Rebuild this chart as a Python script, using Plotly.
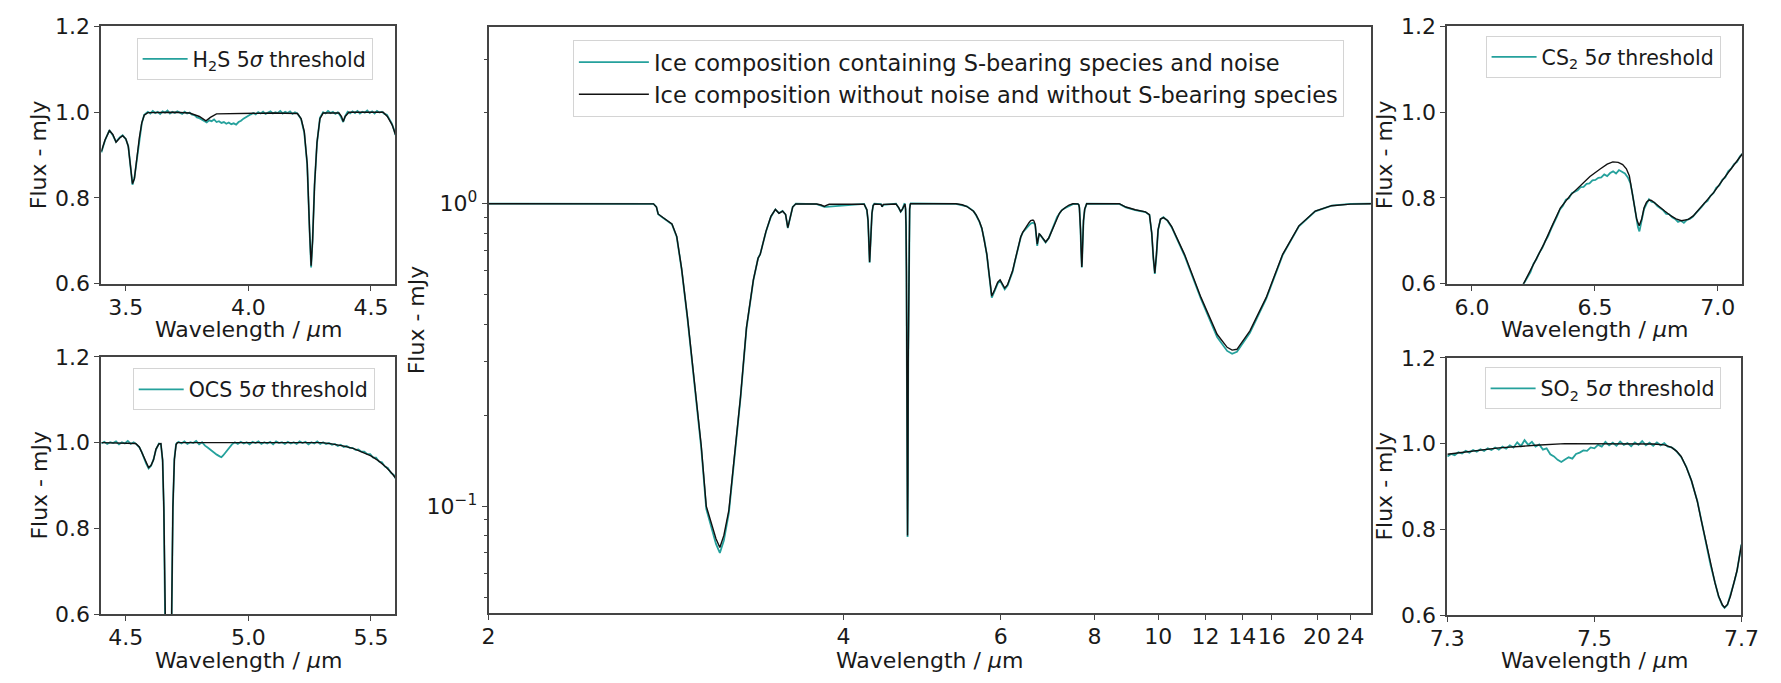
import plotly.graph_objects as go

W, H = 1781, 683
TEAL = "#25a19c"
BLACK = "#111111"
AXC = "#444444"
FONT = "DejaVu Sans"

# ---------------- centre panel: full spectrum ----------------
wl_full = [
    2.00, 2.30, 2.60, 2.68, 2.695, 2.704, 2.729, 2.777, 2.803, 2.83,
    2.863, 2.902, 2.942, 2.972, 3.002, 3.031, 3.055, 3.08, 3.112, 3.143,
    3.188, 3.228, 3.275, 3.308, 3.315, 3.323, 3.364, 3.40, 3.433, 3.46,
    3.487, 3.51, 3.527, 3.545, 3.565, 3.59, 3.76, 3.80, 3.827, 3.845,
    3.87, 4.20, 4.228, 4.24, 4.25, 4.256, 4.262, 4.27, 4.28, 4.292,
    4.305, 4.375, 4.387, 4.40, 4.54, 4.57, 4.593, 4.613, 4.635, 4.643,
    4.65, 4.655, 4.66, 4.665, 4.67, 4.673, 4.677, 4.681, 4.687, 4.692,
    4.698, 4.705, 4.71, 5.30, 5.39, 5.46, 5.53, 5.56, 5.60, 5.65,
    5.69, 5.73, 5.77, 5.80, 5.83, 5.85, 5.90, 5.95, 5.99, 6.03,
    6.07, 6.12, 6.17, 6.21, 6.25, 6.294, 6.33, 6.36, 6.40, 6.44,
    6.48, 6.52, 6.55, 6.573, 6.595, 6.613, 6.628, 6.64, 6.65, 6.66,
    6.67, 6.68, 6.69, 6.70, 6.72, 6.74, 6.785, 6.852, 6.918, 6.985,
    7.051, 7.10, 7.15, 7.20, 7.25, 7.30, 7.37, 7.46, 7.58, 7.605,
    7.618, 7.632, 7.645, 7.658, 7.669, 7.677, 7.685, 7.694, 7.70, 7.72,
    7.75, 7.78, 7.80, 8.70, 8.90, 9.20, 9.54, 9.68, 9.76, 9.82,
    9.87, 9.93, 9.99, 10.08, 10.19, 10.35, 10.51, 11.04, 11.78, 12.58,
    13.12, 13.40, 13.68, 14.48, 15.59, 16.84, 18.23, 19.81, 21.61, 24.0,
    27.5,
]
flux_full_model = [
    1.0, 1.0, 1.0, 0.999, 0.975, 0.925, 0.90, 0.857, 0.78, 0.61,
    0.42, 0.26, 0.159, 0.10, 0.088, 0.078, 0.073, 0.08, 0.097, 0.14,
    0.23, 0.39, 0.56, 0.66, 0.672, 0.68, 0.81, 0.908, 0.957, 0.930,
    0.945, 0.920, 0.833, 0.895, 0.975, 0.999, 0.998, 0.99, 0.98, 0.988,
    0.996, 0.997, 0.955, 0.88, 0.72, 0.642, 0.70, 0.83, 0.93, 0.985,
    0.998, 0.995, 0.978, 0.995, 0.998, 0.97, 0.942, 0.96, 0.997, 0.998,
    0.96, 0.85, 0.60, 0.30, 0.12, 0.08, 0.12, 0.30, 0.60, 0.85,
    0.96, 0.995, 1.0, 1.0, 0.992, 0.979, 0.958, 0.944, 0.918, 0.875,
    0.83, 0.76, 0.68, 0.60, 0.53, 0.495, 0.52, 0.55, 0.56, 0.545,
    0.526, 0.54, 0.57, 0.60, 0.645, 0.694, 0.74, 0.777, 0.806, 0.829,
    0.85, 0.867, 0.879, 0.884, 0.883, 0.878, 0.868, 0.852, 0.82, 0.784,
    0.75, 0.735, 0.75, 0.777, 0.795, 0.79, 0.769, 0.747, 0.77, 0.814,
    0.867, 0.903, 0.93, 0.95, 0.965, 0.975, 0.99, 1.0, 0.999, 0.991,
    0.97, 0.914, 0.824, 0.719, 0.644, 0.618, 0.644, 0.704, 0.764, 0.88,
    0.96, 0.995, 1.0, 1.0, 0.975, 0.955, 0.94, 0.92, 0.80, 0.66,
    0.59, 0.68, 0.82, 0.89, 0.90, 0.88, 0.84, 0.68, 0.49, 0.37,
    0.335, 0.328, 0.33, 0.38, 0.49, 0.68, 0.845, 0.946, 0.985, 0.997,
    1.0,
]
flux_full_noisy = [
    1.001, 0.999, 1.002, 0.998, 0.976, 0.923, 0.898, 0.855, 0.776, 0.607,
    0.416, 0.257, 0.156, 0.098, 0.085, 0.075, 0.070, 0.077, 0.095, 0.138,
    0.228, 0.387, 0.558, 0.661, 0.670, 0.681, 0.808, 0.906, 0.958, 0.931,
    0.946, 0.921, 0.831, 0.893, 0.976, 1.001, 0.997, 0.986, 0.976, 0.977,
    0.978, 0.998, 0.953, 0.877, 0.717, 0.638, 0.702, 0.832, 0.928, 0.987,
    1.000, 0.997, 0.977, 0.991, 1.001, 0.969, 0.941, 0.958, 0.998, 0.996,
    0.958, 0.847, 0.596, 0.296, 0.118, 0.079, 0.118, 0.297, 0.597, 0.848,
    0.962, 0.997, 1.002, 0.999, 0.991, 0.980, 0.956, 0.945, 0.916, 0.872,
    0.826, 0.757, 0.676, 0.595, 0.525, 0.489, 0.516, 0.545, 0.557, 0.540,
    0.521, 0.536, 0.566, 0.596, 0.642, 0.692, 0.738, 0.775, 0.805, 0.822,
    0.838, 0.850, 0.860, 0.862, 0.865, 0.861, 0.857, 0.846, 0.814, 0.781,
    0.746, 0.725, 0.742, 0.775, 0.796, 0.788, 0.768, 0.745, 0.769, 0.812,
    0.866, 0.904, 0.928, 0.951, 0.963, 0.972, 0.986, 0.997, 0.999, 0.990,
    0.969, 0.913, 0.823, 0.717, 0.643, 0.616, 0.645, 0.703, 0.765, 0.878,
    0.958, 0.996, 1.001, 0.999, 0.973, 0.953, 0.938, 0.918, 0.797, 0.655,
    0.586, 0.676, 0.818, 0.888, 0.902, 0.877, 0.836, 0.674, 0.484, 0.362,
    0.326, 0.319, 0.324, 0.374, 0.485, 0.676, 0.842, 0.944, 0.986, 0.998,
    1.001,
]
full_tick_labels = [2, 4, 6, 8, 10, 12, 14, 16, 20, 24]
full_xrange = [2.0, 27.07]
full_yrange_log = [-1.354, 0.583]

# ---------------- H2S panel ----------------
wl_h2s_model = [3.40, 3.415, 3.433, 3.447, 3.46, 3.475, 3.487, 3.50, 3.51, 3.52,
                3.527, 3.535, 3.545, 3.555, 3.565, 3.575, 3.59, 3.70, 3.76, 3.80,
                3.827, 3.845, 3.87, 3.95, 4.10, 4.20, 4.215, 4.228, 4.24, 4.25,
                4.256, 4.262, 4.27, 4.28, 4.292, 4.305, 4.37, 4.38, 4.387, 4.395,
                4.41, 4.55, 4.567, 4.587, 4.60]
flux_h2s_model = [0.908, 0.935, 0.957, 0.948, 0.930, 0.940, 0.945, 0.938, 0.920, 0.870,
                  0.833, 0.845, 0.895, 0.940, 0.975, 0.993, 0.999, 1.0, 0.998, 0.99,
                  0.98, 0.988, 0.996, 0.997, 0.998, 0.997, 0.985, 0.955, 0.88, 0.72,
                  0.642, 0.70, 0.83, 0.93, 0.985, 0.998, 0.998, 0.99, 0.978, 0.99,
                  1.0, 1.0, 0.99, 0.97, 0.948]
wl_h2s_noisy = [
    3.40, 3.415, 3.433, 3.447, 3.46, 3.475, 3.487, 3.50, 3.51, 3.52,
    3.527, 3.535, 3.545, 3.555, 3.565, 3.575, 3.59, 3.60, 3.61, 3.62,
    3.63, 3.64, 3.65, 3.66, 3.67, 3.68, 3.69, 3.70, 3.71, 3.72,
    3.73, 3.74, 3.75, 3.76, 3.77, 3.78, 3.79, 3.80, 3.81, 3.82,
    3.83, 3.84, 3.85, 3.86, 3.87, 3.88, 3.89, 3.90, 3.91, 3.92,
    3.93, 3.94, 3.95, 3.96, 3.97, 3.98, 3.99, 4.00, 4.01, 4.02,
    4.03, 4.04, 4.05, 4.06, 4.07, 4.08, 4.09, 4.10, 4.11, 4.12,
    4.13, 4.14, 4.15, 4.16, 4.17, 4.18, 4.19, 4.20, 4.215, 4.228,
    4.24, 4.25, 4.256, 4.262, 4.27, 4.28, 4.292, 4.305, 4.315, 4.325,
    4.335, 4.345, 4.355, 4.365, 4.375, 4.387, 4.395, 4.405, 4.415, 4.425,
    4.435, 4.445, 4.455, 4.465, 4.475, 4.485, 4.495, 4.505, 4.515, 4.525,
    4.535, 4.545, 4.555, 4.565, 4.575, 4.585, 4.595, 4.60,
]
flux_h2s_noisy = [
    0.906, 0.934, 0.958, 0.946, 0.931, 0.941, 0.946, 0.937, 0.921, 0.868,
    0.831, 0.847, 0.893, 0.941, 0.974, 0.994, 1.001, 0.997, 1.003, 0.998,
    1.001, 0.996, 1.002, 0.999, 1.004, 0.997, 1.001, 0.998, 1.002, 0.999,
    0.996, 1.001, 0.997, 0.999, 0.994, 0.993, 0.988, 0.986, 0.982, 0.978,
    0.976, 0.981, 0.979, 0.983, 0.977, 0.979, 0.975, 0.977, 0.973, 0.976,
    0.972, 0.974, 0.971, 0.977, 0.980, 0.985, 0.989, 0.993, 0.995, 0.998,
    0.995, 1.000, 0.997, 1.001, 0.996, 0.999, 1.002, 0.997, 1.000, 0.998,
    1.003, 0.997, 1.001, 0.998, 1.002, 0.996, 1.000, 0.997, 0.984, 0.952,
    0.878, 0.718, 0.638, 0.702, 0.832, 0.928, 0.987, 1.000, 0.997, 1.003,
    0.998, 1.001, 0.996, 1.000, 0.992, 0.977, 0.991, 1.001, 0.997, 1.002,
    0.998, 1.003, 0.997, 1.001, 0.999, 1.004, 0.998, 1.002, 0.997, 1.003,
    0.999, 1.001, 0.996, 0.994, 0.985, 0.974, 0.958, 0.947,
]
h2s_ticks = [3.5, 4.0, 4.5]
h2s_xrange = [3.4, 4.6]

# ---------------- OCS panel ----------------
wl_ocs_model = [4.40, 4.54, 4.555, 4.57, 4.583, 4.593, 4.603, 4.613, 4.623, 4.635,
                4.643, 4.65, 4.655, 4.66, 4.665, 4.67, 4.673, 4.677, 4.681, 4.687,
                4.692, 4.698, 4.705, 4.71, 5.30, 5.34, 5.39, 5.43, 5.46, 5.50,
                5.53, 5.56, 5.58, 5.60]
flux_ocs_model = [1.0, 0.998, 0.99, 0.97, 0.952, 0.942, 0.947, 0.96, 0.985, 0.997,
                  0.998, 0.96, 0.85, 0.60, 0.30, 0.12, 0.08, 0.12, 0.30, 0.60,
                  0.85, 0.96, 0.995, 1.0, 1.0, 0.997, 0.992, 0.986, 0.979, 0.969,
                  0.958, 0.944, 0.932, 0.918]
wl_ocs_noisy = [
    4.40, 4.412, 4.424, 4.436, 4.448, 4.46, 4.472, 4.484, 4.496, 4.508,
    4.52, 4.532, 4.544, 4.555, 4.565, 4.575, 4.583, 4.593, 4.603, 4.613,
    4.623, 4.635, 4.643, 4.65, 4.655, 4.66, 4.665, 4.67, 4.673, 4.677,
    4.681, 4.687, 4.692, 4.698, 4.705, 4.715, 4.727, 4.739, 4.751, 4.763,
    4.775, 4.787, 4.799, 4.811, 4.823, 4.835, 4.847, 4.859, 4.871, 4.883,
    4.89, 4.897, 4.909, 4.921, 4.933, 4.945, 4.957, 4.969, 4.981, 4.993,
    5.005, 5.017, 5.029, 5.041, 5.053, 5.065, 5.077, 5.089, 5.101, 5.113,
    5.125, 5.137, 5.149, 5.161, 5.173, 5.185, 5.197, 5.209, 5.221, 5.233,
    5.245, 5.257, 5.269, 5.281, 5.293, 5.305, 5.317, 5.329, 5.341, 5.353,
    5.365, 5.377, 5.389, 5.401, 5.413, 5.425, 5.437, 5.449, 5.461, 5.473,
    5.485, 5.497, 5.509, 5.521, 5.533, 5.545, 5.557, 5.569, 5.581, 5.593,
    5.60,
]
flux_ocs_noisy = [
    0.998, 1.002, 0.997, 1.001, 0.999, 1.003, 0.996, 1.001, 0.998, 1.004,
    0.997, 1.001, 0.996, 0.989, 0.978, 0.962, 0.951, 0.940, 0.946, 0.961,
    0.984, 0.998, 0.997, 0.958, 0.848, 0.596, 0.296, 0.117, 0.078, 0.118,
    0.297, 0.598, 0.849, 0.962, 0.997, 1.002, 0.998, 1.003, 0.997, 1.001,
    0.999, 1.004, 0.996, 1.001, 0.993, 0.988, 0.982, 0.977, 0.972, 0.968,
    0.966, 0.970, 0.978, 0.987, 0.996, 1.001, 0.997, 1.002, 0.998, 1.001,
    0.996, 1.002, 0.999, 1.003, 0.997, 1.001, 0.998, 1.002, 0.996, 1.003,
    0.999, 1.001, 0.997, 1.002, 0.998, 1.001, 0.997, 1.003, 0.999, 1.002,
    0.996, 1.001, 0.998, 1.003, 0.997, 1.001, 0.997, 0.999, 0.995, 0.997,
    0.992, 0.995, 0.990, 0.992, 0.988, 0.988, 0.983, 0.984, 0.979, 0.979,
    0.973, 0.973, 0.965, 0.965, 0.956, 0.954, 0.944, 0.941, 0.930, 0.925,
    0.917,
]
ocs_ticks = [4.5, 5.0, 5.5]
ocs_xrange = [4.4, 5.6]

# ---------------- CS2 panel ----------------
wl_cs2_model = [5.90, 5.95, 5.99, 6.03, 6.07, 6.12, 6.17, 6.21, 6.25, 6.294,
                6.33, 6.36, 6.40, 6.44, 6.48, 6.52, 6.55, 6.573, 6.595, 6.613,
                6.628, 6.64, 6.65, 6.66, 6.67, 6.68, 6.69, 6.70, 6.71, 6.72,
                6.73, 6.74, 6.76, 6.785, 6.81, 6.83, 6.852, 6.88, 6.90, 6.918,
                6.95, 6.985, 7.02, 7.051, 7.08, 7.10]
flux_cs2_model = [0.52, 0.55, 0.56, 0.545, 0.526, 0.54, 0.57, 0.60, 0.645, 0.694,
                  0.74, 0.777, 0.806, 0.829, 0.85, 0.867, 0.879, 0.884, 0.883, 0.878,
                  0.868, 0.852, 0.82, 0.784, 0.75, 0.735, 0.75, 0.777, 0.79, 0.795,
                  0.794, 0.79, 0.78, 0.769, 0.758, 0.751, 0.747, 0.75, 0.758, 0.77,
                  0.79, 0.814, 0.842, 0.867, 0.888, 0.903]
wl_cs2_noisy = [
    6.19, 6.202, 6.214, 6.226, 6.238, 6.25, 6.262, 6.274, 6.286, 6.298,
    6.31, 6.322, 6.334, 6.346, 6.358, 6.37, 6.382, 6.394, 6.406, 6.418,
    6.43, 6.442, 6.454, 6.466, 6.478, 6.49, 6.502, 6.514, 6.526, 6.538,
    6.55, 6.562, 6.574, 6.586, 6.598, 6.61, 6.622, 6.634, 6.644, 6.652,
    6.66, 6.668, 6.675, 6.681, 6.687, 6.694, 6.70, 6.71, 6.72, 6.73,
    6.742, 6.754, 6.766, 6.778, 6.79, 6.802, 6.814, 6.826, 6.838, 6.85,
    6.862, 6.874, 6.886, 6.898, 6.91, 6.922, 6.934, 6.946, 6.958, 6.97,
    6.982, 6.994, 7.006, 7.018, 7.03, 7.042, 7.054, 7.066, 7.078, 7.09,
    7.10,
]
flux_cs2_noisy = [
    0.585, 0.592, 0.603, 0.616, 0.627, 0.646, 0.657, 0.672, 0.683, 0.699,
    0.711, 0.728, 0.741, 0.757, 0.773, 0.782, 0.796, 0.799, 0.811, 0.814,
    0.818, 0.825, 0.826, 0.833, 0.834, 0.841, 0.842, 0.847, 0.848, 0.855,
    0.851, 0.858, 0.862, 0.857, 0.865, 0.861, 0.857, 0.848, 0.835, 0.812,
    0.781, 0.752, 0.732, 0.722, 0.738, 0.763, 0.774, 0.786, 0.797, 0.791,
    0.789, 0.781, 0.776, 0.771, 0.763, 0.762, 0.755, 0.751, 0.744, 0.747,
    0.742, 0.749, 0.751, 0.756, 0.764, 0.771, 0.779, 0.788, 0.793, 0.805,
    0.811, 0.824, 0.829, 0.842, 0.848, 0.862, 0.868, 0.879, 0.884, 0.897,
    0.903,
]
cs2_ticks = [6.0, 6.5, 7.0]
cs2_xrange = [5.9, 7.1]

# ---------------- SO2 panel ----------------
wl_so2_model = [7.30, 7.33, 7.37, 7.42, 7.46, 7.58, 7.595, 7.605, 7.612, 7.618,
                7.625, 7.632, 7.64, 7.645, 7.652, 7.658, 7.664, 7.669, 7.674, 7.677,
                7.681, 7.685, 7.69, 7.694, 7.70]
flux_so2_model = [0.975, 0.982, 0.99, 0.996, 1.0, 0.999, 0.997, 0.991, 0.982, 0.97,
                  0.945, 0.914, 0.865, 0.824, 0.77, 0.719, 0.675, 0.644, 0.624, 0.618,
                  0.625, 0.644, 0.675, 0.704, 0.764]
wl_so2_noisy = [
    7.300, 7.305, 7.310, 7.315, 7.320, 7.325, 7.330, 7.335, 7.340, 7.345,
    7.350, 7.355, 7.360, 7.365, 7.370, 7.375, 7.380, 7.385, 7.390, 7.395,
    7.400, 7.405, 7.410, 7.415, 7.420, 7.425, 7.430, 7.435, 7.440, 7.445,
    7.450, 7.455, 7.460, 7.465, 7.470, 7.475, 7.480, 7.485, 7.490, 7.495,
    7.500, 7.505, 7.510, 7.515, 7.520, 7.525, 7.530, 7.535, 7.540, 7.545,
    7.550, 7.555, 7.560, 7.565, 7.570, 7.575, 7.580, 7.585, 7.590, 7.595,
    7.600, 7.605, 7.610, 7.618, 7.625, 7.632, 7.640, 7.645, 7.652, 7.658,
    7.664, 7.669, 7.674, 7.677, 7.681, 7.685, 7.690, 7.694, 7.700,
]
flux_so2_noisy = [
    0.970, 0.976, 0.973, 0.980, 0.977, 0.983, 0.979, 0.985, 0.981, 0.987,
    0.983, 0.989, 0.985, 0.991, 0.986, 0.993, 0.988, 0.996, 0.991, 1.003,
    0.994, 1.008, 0.997, 1.004, 0.993, 0.998, 0.986, 0.989, 0.975, 0.970,
    0.962, 0.957, 0.963, 0.968, 0.965, 0.976, 0.979, 0.984, 0.983, 0.991,
    0.989, 0.997, 0.993, 1.004, 0.996, 1.002, 0.995, 1.005, 0.997, 1.001,
    0.994, 1.003, 0.997, 1.006, 0.996, 1.002, 0.995, 1.003, 0.996, 1.001,
    0.993, 0.991, 0.985, 0.969, 0.946, 0.913, 0.866, 0.823, 0.771, 0.717,
    0.676, 0.643, 0.623, 0.617, 0.624, 0.645, 0.676, 0.703, 0.765,
]
so2_ticks = [7.3, 7.5, 7.7]
so2_xrange = [7.3, 7.7]

flux_ticks = [0.6, 0.8, 1.0, 1.2]
flux_range = [0.6, 1.2]


# the centre panel's wavelength axis is spaced as lambda^(-1/2)
def wl_axis(values):
    return [-(v ** -0.5) for v in values]


def xdom(a, b):
    return [a / W, b / W]


def ydom(top, bottom):
    return [1 - bottom / H, 1 - top / H]


fig = go.Figure()

# centre
fig.add_trace(go.Scatter(x=wl_axis(wl_full), y=flux_full_noisy, mode="lines",
                         line=dict(color=TEAL, width=1.8), xaxis="x", yaxis="y",
                         name="Ice composition containing S-bearing species and noise",
                         legend="legend"))
fig.add_trace(go.Scatter(x=wl_axis(wl_full), y=flux_full_model, mode="lines",
                         line=dict(color=BLACK, width=1.4), xaxis="x", yaxis="y",
                         name="Ice composition without noise and without S-bearing species",
                         legend="legend"))

side = [
    ("x2", "y2", "legend2", "H<sub>2</sub>S 5<i>σ</i> threshold",
     wl_h2s_noisy, flux_h2s_noisy, wl_h2s_model, flux_h2s_model),
    ("x3", "y3", "legend3", "OCS 5<i>σ</i> threshold",
     wl_ocs_noisy, flux_ocs_noisy, wl_ocs_model, flux_ocs_model),
    ("x4", "y4", "legend4", "CS<sub>2</sub> 5<i>σ</i> threshold",
     wl_cs2_noisy, flux_cs2_noisy, wl_cs2_model, flux_cs2_model),
    ("x5", "y5", "legend5", "SO<sub>2</sub> 5<i>σ</i> threshold",
     wl_so2_noisy, flux_so2_noisy, wl_so2_model, flux_so2_model),
]
for xa, ya, lg, name, wn, fn, wm, fm in side:
    fig.add_trace(go.Scatter(x=wn, y=fn, mode="lines", line=dict(color=TEAL, width=1.8),
                             xaxis=xa, yaxis=ya, name=name, legend=lg))
    fig.add_trace(go.Scatter(x=wm, y=fm, mode="lines", line=dict(color=BLACK, width=1.4),
                             xaxis=xa, yaxis=ya, showlegend=False))

axis_common = dict(showline=True, mirror=True, linecolor=AXC, linewidth=1.7,
                   ticks="outside", ticklen=5, tickwidth=1.3, tickcolor=AXC,
                   showgrid=False, zeroline=False,
                   tickfont=dict(family=FONT, size=22, color="#1a1a1a"))

panel_geo = {
    "2": ((85, 385), (15, 282), h2s_xrange, h2s_ticks),
    "3": ((85, 385), (358, 625), ocs_xrange, ocs_ticks),
    "4": ((1458, 1759), (15, 282), cs2_xrange, cs2_ticks),
    "5": ((1458, 1758), (359, 626), so2_xrange, so2_ticks),
}
layout_axes = {}
for k, ((x0, x1), (y0, y1), xr, xt) in panel_geo.items():
    layout_axes["xaxis" + k] = dict(axis_common, domain=xdom(x0, x1), range=xr,
                                    anchor="y" + k, tickmode="array", tickvals=xt,
                                    ticktext=["%.1f" % t for t in xt], tickangle=0,
                                    ticklabelstandoff=-2)
    layout_axes["yaxis" + k] = dict(axis_common, domain=ydom(y0, y1), range=flux_range,
                                    anchor="x" + k, tickmode="array", tickvals=flux_ticks,
                                    ticktext=["%.1f" % t for t in flux_ticks])

layout_axes["xaxis"] = dict(axis_common, domain=xdom(480, 1380), range=wl_axis(full_xrange),
                            anchor="y", tickmode="array", tickvals=wl_axis(full_tick_labels),
                            ticktext=[str(t) for t in full_tick_labels], tickangle=0,
                            ticklabelstandoff=-2)
layout_axes["yaxis"] = dict(axis_common, domain=ydom(16, 624), type="log",
                            range=full_yrange_log, anchor="x", tickmode="array",
                            tickvals=[0.1, 1.0],
                            ticktext=["10<sup>−1</sup>", "10<sup>0</sup>"],
                            minor=dict(ticks="outside", ticklen=3, tickwidth=1, tickcolor=AXC,
                                       tickmode="array",
                                       tickvals=[0.05, 0.06, 0.07, 0.08, 0.09, 0.2, 0.3, 0.4, 0.5,
                                                 0.6, 0.7, 0.8, 0.9, 2, 3]))


def leg(px, py, size, iw):
    return dict(x=px / W, y=1 - py / H, xanchor="left", yanchor="top",
                bgcolor="rgba(255,255,255,0.85)", bordercolor="#d4d4d4", borderwidth=1,
                font=dict(family=FONT, size=size, color="#1a1a1a"), itemwidth=iw,
                tracegroupgap=2)


annotations = []
xt_pos = [(235, 330), (235, 673), (930, 673), (1608, 330), (1608, 673)]
for px, py in xt_pos:
    annotations.append(dict(text="Wavelength / <i>μ</i>m", x=px / W, y=1 - py / H,
                            xref="paper", yref="paper", showarrow=False,
                            xanchor="center", yanchor="middle",
                            font=dict(family=FONT, size=22, color="#1a1a1a")))
yt_pos = [(21, 148), (21, 491), (406, 320), (1394, 148), (1394, 492)]
for px, py in yt_pos:
    annotations.append(dict(text="Flux - mJy", x=px / W, y=1 - py / H, textangle=-90,
                            xref="paper", yref="paper", showarrow=False,
                            xanchor="center", yanchor="middle",
                            font=dict(family=FONT, size=22, color="#1a1a1a")))

fig.update_layout(
    width=W, height=H, margin=dict(l=0, r=0, t=0, b=0),
    paper_bgcolor="white", plot_bgcolor="white",
    font=dict(family=FONT, color="#1a1a1a"),
    legend=leg(566, 29, 22.5, 70),
    legend2=leg(121, 27, 20.5, 45),
    legend3=leg(117, 370, 20.5, 45),
    legend4=leg(1497, 25, 20.5, 45),
    legend5=leg(1496, 369, 20.5, 45),
    annotations=annotations,
    **layout_axes,
)

fig.write_html("out.html", config={"displayModeBar": False},
               post_script="document.body.style.margin='0';document.body.style.overflow='hidden';")
